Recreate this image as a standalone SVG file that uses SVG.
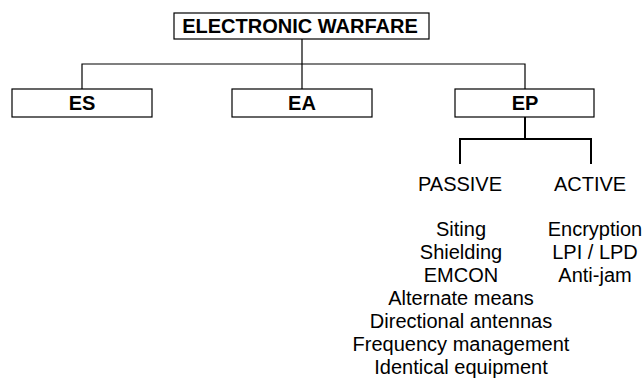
<svg xmlns="http://www.w3.org/2000/svg" width="643" height="381" viewBox="0 0 643 381">
<style>
.box{fill:#fff;stroke:#000;stroke-width:1.2}
.t{font-family:"Liberation Sans",Arial,sans-serif;fill:#000;text-anchor:middle}
.b{font-weight:bold;font-size:20px}
.n{font-size:20px}
.ln{fill:none;stroke:#000;stroke-width:1.2}
.br{fill:none;stroke:#000;stroke-width:2}
</style>
<rect width="643" height="381" fill="#fff"/>
<g id="connectors">
<path class="ln" d="M302 39V89M82 89V64H525V89"/>
<path class="br" d="M525 117V139M460 164V139H591V164"/>
</g>
<g id="ew">
<rect class="box" x="174" y="13" width="255" height="26"/>
<text class="t b" x="300" y="33">ELECTRONIC WARFARE</text>
</g>
<g id="es">
<rect class="box" x="12" y="89" width="140" height="28"/>
<text class="t b" x="82" y="110">ES</text>
</g>
<g id="ea">
<rect class="box" x="232" y="89" width="140" height="28"/>
<text class="t b" x="302" y="110">EA</text>
</g>
<g id="ep">
<rect class="box" x="455" y="89" width="139" height="28"/>
<text class="t b" x="525" y="110">EP</text>
</g>
<g id="passive">
<text class="t n" x="460" y="191">PASSIVE</text>
<text class="t n" x="461" y="236">Siting</text>
<text class="t n" x="461" y="259">Shielding</text>
<text class="t n" x="461" y="282">EMCON</text>
<text class="t n" x="461" y="305">Alternate means</text>
<text class="t n" x="461" y="328">Directional antennas</text>
<text class="t n" x="461" y="351">Frequency management</text>
<text class="t n" x="461" y="374">Identical equipment</text>
</g>
<g id="active">
<text class="t n" x="590" y="191">ACTIVE</text>
<text class="t n" x="595" y="236">Encryption</text>
<text class="t n" x="595" y="259">LPI / LPD</text>
<text class="t n" x="595" y="282">Anti-jam</text>
</g>
</svg>
